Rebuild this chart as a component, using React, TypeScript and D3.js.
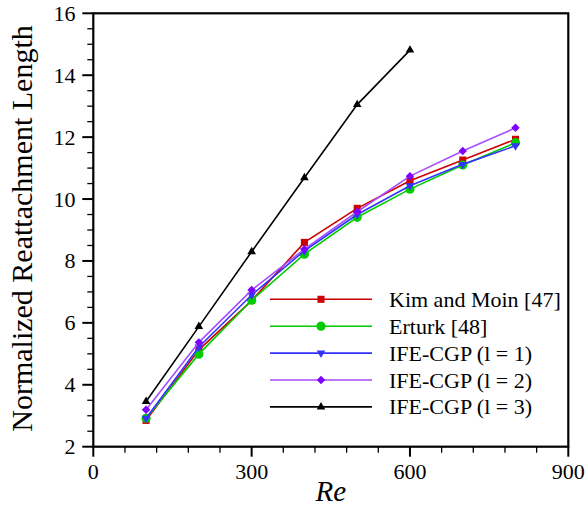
import React from "react";
import * as d3 from "d3";

const reValues = [100, 200, 300, 400, 500, 600, 700, 800];
const kimMoin = [2.85, 5.13, 6.72, 8.6, 9.7, 10.59, 11.26, 11.93];
const erturk = [2.92, 4.99, 6.73, 8.22, 9.41, 10.32, 11.1, 11.82];
const ifeL1 = [2.92, 5.22, 6.9, 8.33, 9.5, 10.43, 11.12, 11.72];
const ifeL2 = [3.19, 5.37, 7.06, 8.38, 9.59, 10.74, 11.55, 12.3];
const reL3 = [100, 200, 300, 400, 500, 600];
const ifeL3 = [3.46, 5.88, 8.3, 10.69, 13.05, 14.81];

const seriesNames = [
  "Kim and Moin [47]",
  "Erturk [48]",
  "IFE-CGP (l = 1)",
  "IFE-CGP (l = 2)",
  "IFE-CGP (l = 3)",
];

const xTickValues = [0, 300, 600, 900];
const yTickValues = [2, 4, 6, 8, 10, 12, 14, 16];

const W = 585;
const H = 507;
const M = { left: 93.3, right: 585 - 568.3, top: 13.3, bottom: 507 - 446.7 };

const FONT = "Liberation Serif, Times New Roman, serif";

export default function App() {
  const x = d3.scaleLinear().domain([0, 900]).range([M.left, W - M.right]);
  const y = d3.scaleLinear().domain([2, 16]).range([H - M.bottom, M.top]);

  const series = [
    { name: seriesNames[0], xs: reValues, ys: kimMoin, line: "#cc0000", fill: "#cc0000", sym: d3.symbolSquare, size: 50, rot: 0 },
    { name: seriesNames[1], xs: reValues, ys: erturk, line: "#00cc00", fill: "#00cc00", sym: d3.symbolCircle, size: 66, rot: 0 },
    { name: seriesNames[2], xs: reValues, ys: ifeL1, line: "#3333ff", fill: "#3333ff", sym: d3.symbolTriangle, size: 32, rot: 180 },
    { name: seriesNames[3], xs: reValues, ys: ifeL2, line: "#a64dff", fill: "#8000ff", sym: d3.symbolSquare, size: 36, rot: 45 },
    { name: seriesNames[4], xs: reL3, ys: ifeL3, line: "#000000", fill: "#000000", sym: d3.symbolTriangle, size: 32, rot: 0 },
  ];

  const lineGen = d3
    .line<[number, number]>()
    .x((d) => x(d[0]))
    .y((d) => y(d[1]));

  const xMinor = d3.range(0, 901, 60);
  const yMinor = d3.range(2, 16.01, 0.5);

  const legendX0 = 270;
  const legendX1 = 372;
  const legendMx = 321;
  const legendTx = 389;
  const legendY0 = 299.3;
  const legendDy = 26.9;

  const tStyle = { fontFamily: FONT };

  return (
    <svg width={W} height={H} style={{ position: "absolute", left: 0, top: 0, background: "#fff" }}>
      <rect
        x={M.left}
        y={M.top}
        width={W - M.left - M.right}
        height={H - M.top - M.bottom}
        fill="none"
        stroke="#000"
        strokeWidth={2.2}
      />
      {xMinor.map((v) => {
        const major = v % 300 === 0;
        return (
          <line key={"xt" + v} x1={x(v)} x2={x(v)} y1={y(2)} y2={y(2) + (major ? 10 : 6)} stroke="#000" strokeWidth={major ? 2 : 1.3} />
        );
      })}
      {xTickValues.map((v) => (
        <text key={"xl" + v} x={x(v)} y={479} fontSize={22} textAnchor="middle" fill="#000" style={tStyle}>
          {v}
        </text>
      ))}
      {yMinor.map((v) => {
        const major = Math.abs(v % 2) < 1e-6;
        return (
          <line key={"yt" + v} x1={x(0) - (major ? 11 : 6)} x2={x(0)} y1={y(v)} y2={y(v)} stroke="#000" strokeWidth={major ? 2 : 1.3} />
        );
      })}
      {yTickValues.map((v) => (
        <text key={"yl" + v} x={75.5} y={y(v) + 7.5} fontSize={22} textAnchor="end" fill="#000" style={tStyle}>
          {v}
        </text>
      ))}
      <text x={(x(0) + x(900)) / 2} y={501} fontSize={29} fontStyle="italic" textAnchor="middle" fill="#000" style={tStyle}>
        Re
      </text>
      <text
        transform={`translate(32,${228.5}) rotate(-90)`}
        fontSize={30}
        textAnchor="middle"
        fill="#000"
        style={tStyle}
      >
        Normalized Reattachment Length
      </text>
      {series.map((s) => {
        const pts: [number, number][] = s.xs.map((v, i) => [v, s.ys[i]]);
        const sym = d3.symbol().type(s.sym).size(s.size)();
        return (
          <g key={s.name}>
            <path d={lineGen(pts) || ""} fill="none" stroke={s.line} strokeWidth={1.6} />
            {pts.map((p, i) => (
              <path
                key={i}
                d={sym || ""}
                transform={`translate(${x(p[0])},${y(p[1])}) rotate(${s.rot})`}
                fill={s.fill}
              />
            ))}
          </g>
        );
      })}
      {series.map((s, i) => {
        const ly = legendY0 + i * legendDy;
        const sym = d3.symbol().type(s.sym).size(s.size)();
        return (
          <g key={"lg" + i}>
            <line x1={legendX0} x2={legendX1} y1={ly} y2={ly} stroke={s.line} strokeWidth={1.6} />
            <path d={sym || ""} transform={`translate(${legendMx},${ly}) rotate(${s.rot})`} fill={s.fill} />
            <text x={legendTx} y={ly + 7.5} fontSize={22} fill="#000" style={tStyle}>
              {s.name}
            </text>
          </g>
        );
      })}
    </svg>
  );
}
